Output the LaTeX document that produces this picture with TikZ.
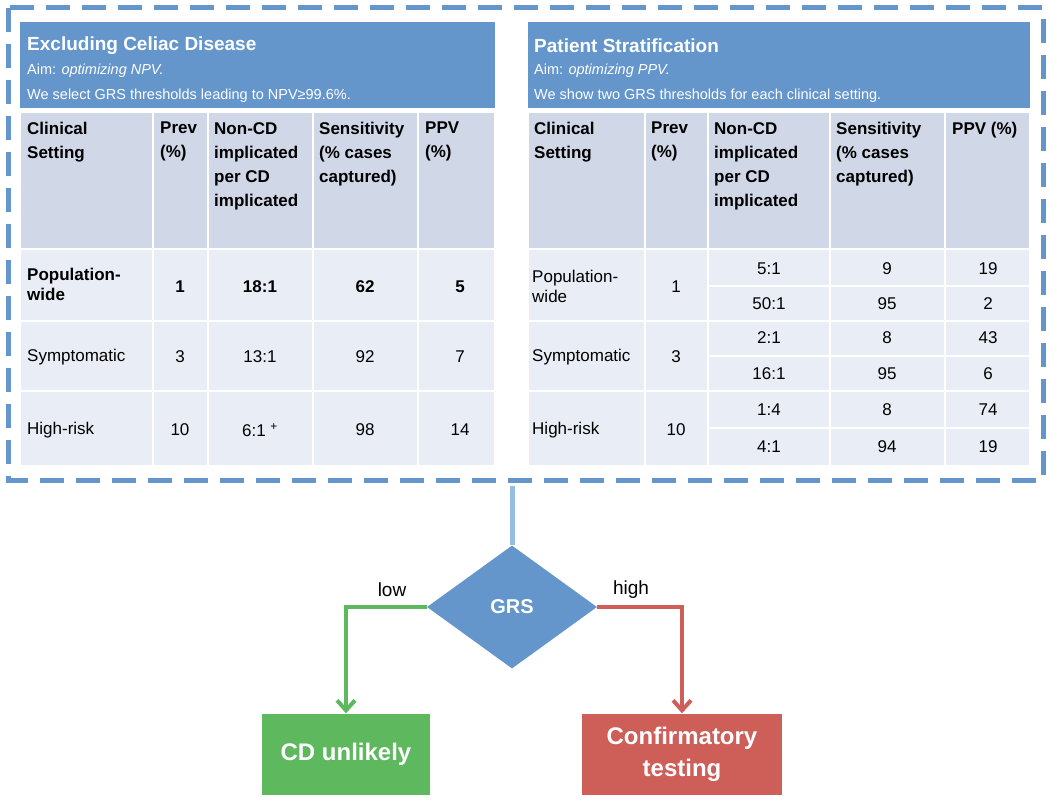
\documentclass[tikz,border=0pt]{standalone}
\usepackage{fontspec}
\setmainfont{Liberation Sans}
\usetikzlibrary{shapes.geometric,arrows.meta}
\definecolor{hdr}{RGB}{100,150,204}
\definecolor{th}{RGB}{208,216,232}
\definecolor{tb}{RGB}{233,237,245}
\definecolor{gr}{RGB}{94,184,94}
\definecolor{rd}{RGB}{206,94,88}
\definecolor{ln}{RGB}{150,190,225}
\begin{document}
\begin{tikzpicture}[x=1pt,y=-1pt,
 cell/.style={fill=#1,draw=white,line width=2pt},
 ht/.style={anchor=north west,align=left,font=\fontsize{17}{24}\selectfont\bfseries,inner sep=0pt},
 bt/.style={font=\fontsize{17}{20}\selectfont,inner sep=0pt},
 hb/.style={text=white,anchor=west,inner sep=0pt},
 box/.style={text=white,font=\fontsize{24}{32}\selectfont\bfseries,align=center}]
\useasboundingbox (0,0) rectangle (1051,800);
% outer dashed
\draw[hdr,line width=5pt,dash pattern=on 24pt off 12pt] (8,8) rectangle (1043,480);
% left header
\fill[hdr] (20,22) rectangle (495,108);
\node[hb,font=\fontsize{19}{22}\selectfont\bfseries] at (27,46) {Excluding Celiac Disease};
\node[hb,font=\fontsize{14.5}{17}\selectfont] at (27,71) {Aim: \textit{optimizing NPV.}};
\node[hb,font=\fontsize{14.5}{17}\selectfont] at (27,96) {We select GRS thresholds leading to NPV≥99.6\%.};
% right header
\fill[hdr] (528,22) rectangle (1030,108);
\node[hb,font=\fontsize{19}{22}\selectfont\bfseries] at (534,46) {Patient Stratification};
\node[hb,font=\fontsize{14.5}{17}\selectfont] at (534,71) {Aim: \textit{optimizing PPV.}};
\node[hb,font=\fontsize{14.5}{17}\selectfont] at (534,96) {We show two GRS thresholds for each clinical setting.};
% left table
\foreach \a/\b in {20/153,153/208,208/313,313/418,418/495}{
 \draw[cell=th] (\a,112) rectangle (\b,249);
 \foreach \y/\z in {249/321,321/391,391/466}{\draw[cell=tb] (\a,\y) rectangle (\b,\z);}}
\node[ht] at (27,122) {Clinical\\Setting};
\node[ht] at (160,122) {Prev\\(\%)};
\node[ht] at (214,122) {Non-CD\\implicated\\per CD\\implicated};
\node[ht] at (319,122) {Sensitivity\\(\% cases\\captured)};
\node[ht] at (425,122) {PPV\\(\%)};
\node[ht,font=\fontsize{17}{20}\selectfont\bfseries] at (27,268) {Population-\\wide};
\node[bt,font=\fontsize{17}{20}\selectfont\bfseries] at (180,287) {1};
\node[bt,font=\fontsize{17}{20}\selectfont\bfseries] at (260,287) {18:1};
\node[bt,font=\fontsize{17}{20}\selectfont\bfseries] at (365,287) {62};
\node[bt,font=\fontsize{17}{20}\selectfont\bfseries] at (460,287) {5};
\node[bt,anchor=west] at (27,357) {Symptomatic};
\node[bt] at (180,357) {3}; \node[bt] at (260,357) {13:1}; \node[bt] at (365,357) {92}; \node[bt] at (460,357) {7};
\node[bt,anchor=west] at (27,430) {High-risk};
\node[bt] at (180,430) {10}; \node[bt] at (260,430) {6:1 \textsuperscript{+}}; \node[bt] at (365,430) {98}; \node[bt] at (460,430) {14};
% right table
\foreach \a/\b in {528/645,645/708,708/830,830/945,945/1030}{\draw[cell=th] (\a,112) rectangle (\b,249);}
\foreach \a/\b in {528/645,645/708}{\foreach \y/\z in {249/321,321/391,391/466}{\draw[cell=tb] (\a,\y) rectangle (\b,\z);}}
\foreach \a/\b in {708/830,830/945,945/1030}{\foreach \y/\z in {249/286,286/321,321/356,356/391,391/428,428/466}{\draw[cell=tb] (\a,\y) rectangle (\b,\z);}}
\node[ht] at (534,122) {Clinical\\Setting};
\node[ht] at (651,122) {Prev\\(\%)};
\node[ht] at (714,122) {Non-CD\\implicated\\per CD\\implicated};
\node[ht] at (836,122) {Sensitivity\\(\% cases\\captured)};
\node[ht] at (952,122) {PPV (\%)};
\node[ht,font=\fontsize{17}{20}\selectfont] at (532,270) {Population-\\wide};
\node[bt] at (676,287) {1};
\node[bt] at (769,269) {5:1}; \node[bt] at (887,269) {9}; \node[bt] at (988,269) {19};
\node[bt] at (769,304) {50:1}; \node[bt] at (887,304) {95}; \node[bt] at (988,304) {2};
\node[bt,anchor=west] at (532,357) {Symptomatic}; \node[bt] at (676,357) {3};
\node[bt] at (769,338) {2:1}; \node[bt] at (887,338) {8}; \node[bt] at (988,338) {43};
\node[bt] at (769,374) {16:1}; \node[bt] at (887,374) {95}; \node[bt] at (988,374) {6};
\begin{scope}[every node/.append style={font=\fontsize{17}{20}\selectfont\bfseries}]
\node[bt,anchor=west] at (532,430) {High-risk}; \node[bt] at (676,430) {10};
\node[bt] at (769,410) {1:4}; \node[bt] at (887,410) {8}; \node[bt] at (988,410) {74};
\node[bt] at (769,447) {4:1}; \node[bt] at (887,447) {94}; \node[bt] at (988,447) {19};
\end{scope}
% flow
\coordinate (top) at (512,486);
\node[diamond,fill=hdr,minimum width=170pt,minimum height=123pt,inner sep=0pt,text=white,font=\fontsize{20}{24}\selectfont\bfseries] (grs) at (512,607) {GRS};
\draw[ln,line width=5pt] (top) -- (grs.north);
\node[box,fill=gr,minimum width=168pt,minimum height=81pt] (cd) at (346,754) {CD unlikely};
\node[box,fill=rd,minimum width=200pt,minimum height=81pt] (ct) at (682,754) {Confirmatory\\testing};
\draw[gr,line width=4pt,-{Straight Barb[length=10pt,width=18pt]}] (grs.west) -| (cd.north);
\draw[rd,line width=4pt,-{Straight Barb[length=10pt,width=18pt]}] (grs.east) -| (ct.north);
\node[font=\fontsize{19}{22}\selectfont] at (392,590) {low};
\node[font=\fontsize{19}{22}\selectfont] at (631,590) {high};
\end{tikzpicture}
\end{document}
